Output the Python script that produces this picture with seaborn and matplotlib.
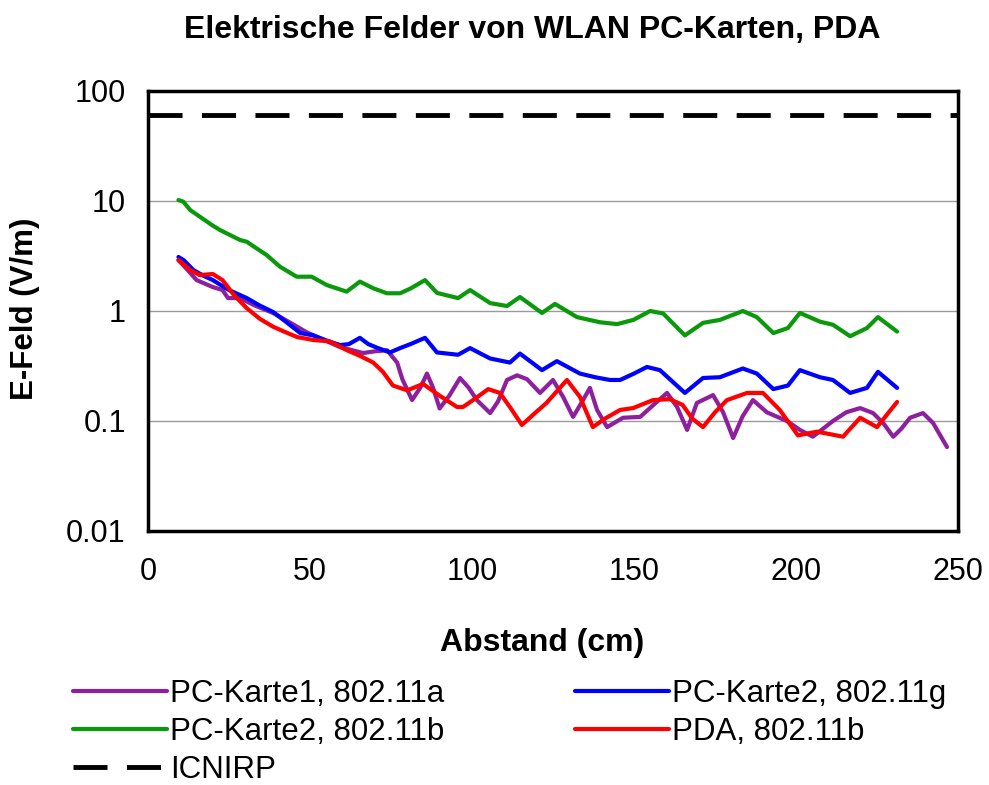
import matplotlib
matplotlib.use("Agg")
import matplotlib.pyplot as plt
import seaborn as sns

karte1_a_x = [9.4, 12, 15, 20, 23, 24.7, 28.4, 33, 38.6, 44, 49, 54, 59.3, 66.4, 70,
              73.8, 76.9, 78.5, 81.5, 84, 86.1, 88, 90, 93, 96.3, 99, 101.5, 105.6, 108,
              110.8, 113.9, 117, 121, 125, 128.1, 131.2, 134, 136.4, 138.6, 141.7, 146.6,
              151.9, 156, 160.2, 163.3, 166.4, 169.4, 174.4, 177.5, 180.6, 183.5, 186.7,
              191, 197.2, 201.2, 205.2, 211.4, 215.5, 219.8, 223.8, 227, 230, 232.5,
              235.2, 239.2, 242.3, 246.6]
karte1_a_y = [2.9, 2.4, 1.91, 1.65, 1.55, 1.31, 1.31, 1.12, 0.96, 0.78, 0.64, 0.55, 0.47,
              0.415, 0.43, 0.44, 0.34, 0.24, 0.155, 0.2, 0.27, 0.2, 0.13, 0.17, 0.246, 0.2,
              0.155, 0.118, 0.15, 0.236, 0.26, 0.24, 0.18, 0.236, 0.166, 0.109, 0.15, 0.2,
              0.126, 0.088, 0.107, 0.109, 0.14, 0.18, 0.134, 0.083, 0.146, 0.172, 0.12,
              0.07, 0.11, 0.155, 0.12, 0.1, 0.083, 0.072, 0.1, 0.12, 0.131, 0.118, 0.095,
              0.072, 0.085, 0.107, 0.118, 0.096, 0.058]

karte2_g_x = [9.4, 11, 14, 17, 20, 25, 30.5, 34.5, 38.6, 43, 47, 51, 55, 59.3, 62, 65.4,
              68, 71, 74.7, 77.8, 81, 85.5, 89.2, 95.7, 99.4, 105.6, 111.7, 114.8, 121.6,
              126.2, 133.3, 138, 142.6, 145.7, 150, 154, 158, 165.7, 171.3, 176.5, 183.6,
              187.9, 193, 197.5, 201.2, 207.4, 211.4, 216.7, 221.9, 225.3, 231.2]
karte2_g_y = [3.1, 2.9, 2.36, 2.1, 1.91, 1.55, 1.31, 1.12, 0.98, 0.78, 0.63, 0.6, 0.54,
              0.49, 0.5, 0.57, 0.5, 0.46, 0.42, 0.46, 0.5, 0.57, 0.42, 0.4, 0.46, 0.37,
              0.34, 0.41, 0.29, 0.35, 0.27, 0.25, 0.236, 0.236, 0.27, 0.31, 0.29, 0.18,
              0.246, 0.25, 0.3, 0.27, 0.195, 0.21, 0.29, 0.25, 0.236, 0.18, 0.2, 0.28, 0.2]

karte2_b_x = [9.4, 10.9, 13, 16, 19.7, 22.2, 25.3, 28.4, 30.5, 33.5, 36.6, 40.7, 45.9,
              50.5, 55.2, 61.3, 65.4, 69.5, 73.7, 77.8, 81, 85.5, 89.2, 95.7, 99.4, 105.6,
              110.8, 114.8, 121.6, 125.6, 132.4, 139.5, 144.8, 149.8, 155, 159, 165.7,
              171.3, 176.5, 183.6, 187.9, 193, 197.5, 201.2, 207.4, 211.4, 216.7, 221.9,
              225.3, 231.2]
karte2_b_y = [10.2, 9.86, 8.28, 7.2, 6.05, 5.45, 4.91, 4.42, 4.26, 3.71, 3.23, 2.53, 2.05,
              2.05, 1.72, 1.5, 1.85, 1.61, 1.45, 1.45, 1.6, 1.91, 1.46, 1.31, 1.55, 1.18,
              1.11, 1.34, 0.96, 1.16, 0.88, 0.79, 0.76, 0.83, 1.0, 0.95, 0.6, 0.78, 0.83,
              1.0, 0.88, 0.63, 0.7, 0.96, 0.8, 0.75, 0.59, 0.7, 0.88, 0.65]

pda_x = [9.4, 13, 16, 20, 23, 26.5, 30.5, 34.5, 38.6, 42, 46, 51, 56, 61.4, 65.5, 69.5,
         72.5, 75.6, 80, 84.9, 90, 95.4, 97.2, 101, 105, 108.6, 112, 115.4, 119, 123,
         129.3, 133.3, 137.3, 141, 145.7, 149.7, 155.9, 161, 165, 168, 171.3, 175, 178.7,
         184.9, 189.8, 195, 200.6, 206.5, 214.5, 219.8, 225, 231.2]
pda_y = [2.9, 2.36, 2.12, 2.17, 1.91, 1.4, 1.06, 0.85, 0.72, 0.65, 0.58, 0.545, 0.53,
         0.44, 0.39, 0.34, 0.28, 0.21, 0.19, 0.217, 0.17, 0.134, 0.134, 0.16, 0.195, 0.18,
         0.13, 0.092, 0.115, 0.146, 0.236, 0.166, 0.088, 0.105, 0.126, 0.131, 0.155,
         0.158, 0.14, 0.105, 0.088, 0.12, 0.155, 0.18, 0.18, 0.126, 0.074, 0.08, 0.072,
         0.107, 0.088, 0.149]

icnirp_x = [0, 250]
icnirp_y = [61, 61]

x_ticks = [0, 50, 100, 150, 200, 250]
y_ticks = [0.01, 0.1, 1, 10, 100]
y_tick_labels = ["0.01", "0.1", "1", "10", "100"]

sns.set_style("white")
plt.rcParams["font.family"] = ["Liberation Sans", "DejaVu Sans"]
plt.rcParams["text.color"] = "black"

fig = plt.figure(figsize=(9.89, 7.85), dpi=100)
ax = fig.add_axes([148 / 989, 1 - 531 / 785, 810 / 989, 440 / 785])

lw = 3
sns.lineplot(x=karte1_a_x, y=karte1_a_y, ax=ax, color="#8e1f9e", lw=lw, sort=False,
             label="PC-Karte1, 802.11a")
sns.lineplot(x=karte2_b_x, y=karte2_b_y, ax=ax, color="#0a990a", lw=lw, sort=False,
             label="PC-Karte2, 802.11b")
sns.lineplot(x=icnirp_x, y=icnirp_y, ax=ax, color="black", lw=3.5, sort=False,
             label="ICNIRP", dashes=False).lines[-1].set_dashes((7, 4))
sns.lineplot(x=karte2_g_x, y=karte2_g_y, ax=ax, color="#0000ff", lw=lw, sort=False,
             label="PC-Karte2, 802.11g")
sns.lineplot(x=pda_x, y=pda_y, ax=ax, color="#ff0000", lw=lw, sort=False,
             label="PDA, 802.11b")
for ln in ax.lines:
    ln.set_solid_joinstyle("round")
    ln.set_solid_capstyle("round")

ax.set_yscale("log")
ax.set_xlim(0, 250)
ax.set_ylim(0.01, 100)
ax.set_xticks(x_ticks)
ax.set_xticklabels([str(t) for t in x_ticks])
ax.set_yticks(y_ticks)
ax.set_yticklabels(y_tick_labels)
ax.minorticks_off()
ax.yaxis.grid(True, color="#9a9a9a", lw=1)
ax.xaxis.grid(False)
ax.set_axisbelow(True)
for sp in ax.spines.values():
    sp.set_visible(True)
    sp.set_color("black")
    sp.set_linewidth(2.5)
ax.tick_params(axis="both", direction="out", length=6, width=1, color="#888888",
               labelsize=22, labelcolor="black")
ax.tick_params(axis="x", pad=13)
ax.tick_params(axis="y", pad=10)
ax.set_xlabel("")
ax.set_ylabel("")

handles, labels = ax.get_legend_handles_labels()
ax.get_legend().remove()
fig.legend(handles, labels, ncol=2, loc="upper left",
           bbox_to_anchor=(73 / 989, 1 - 679 / 785), frameon=False, fontsize=22.5,
           handlelength=3.0, handletextpad=0.1, labelspacing=0.26, columnspacing=4.2,
           borderpad=0, borderaxespad=0, labelcolor="black")

fig.text(532 / 989, 1 - 30 / 785, "Elektrische Felder von WLAN PC-Karten, PDA",
         ha="center", va="center", fontsize=23, fontweight="bold", color="black")
fig.text(542 / 989, 1 - 643 / 785, "Abstand (cm)", ha="center", va="center",
         fontsize=23, fontweight="bold", color="black")
fig.text(25 / 989, 1 - 309 / 785, "E-Feld (V/m)", ha="center", va="center",
         rotation=90, fontsize=22.5, fontweight="bold", color="black")

fig.savefig("out.png", dpi=100)
